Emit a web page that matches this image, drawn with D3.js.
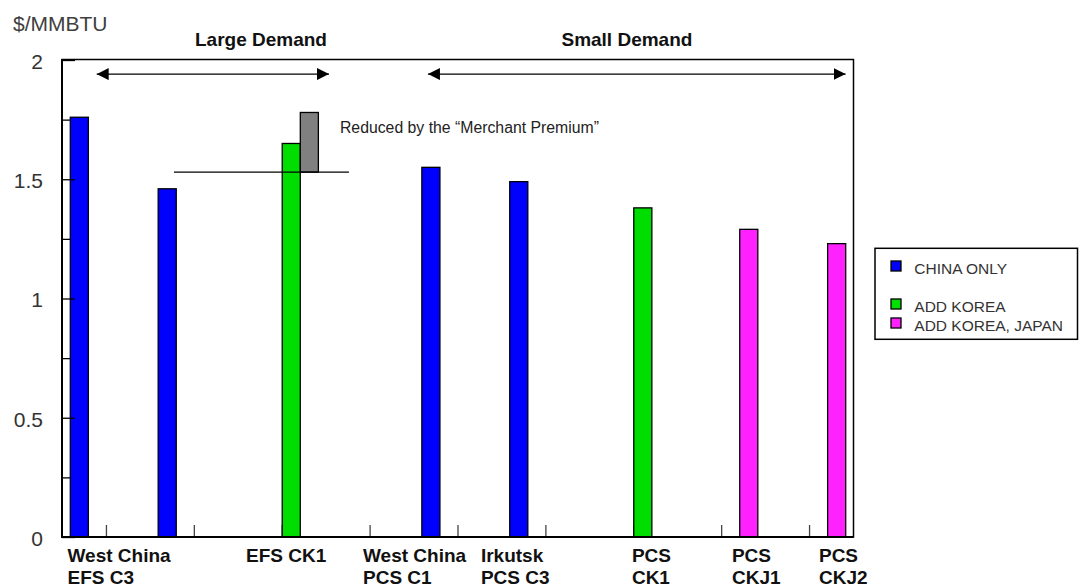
<!DOCTYPE html>
<html>
<head>
<meta charset="utf-8">
<script src="https://cdn.jsdelivr.net/npm/d3@7"></script>
<style>
  html, body { margin: 0; padding: 0; background: #fff; }
  svg { display: block; font-family: Arial, "Liberation Sans", sans-serif; }
</style>
</head>
<body>
<svg id="chart" width="1079" height="588"></svg>
<script>
// ---- data ---------------------------------------------------------------
// Nine route slots along the x axis; null means no bar in that slot.
const slotCount = 9;
const chinaOnly     = [1.76, 1.46, null, null, 1.55, 1.49, null, null, null];
const spacerSeries  = [null, null, null, null, null, null, null, null, null];
const addKorea      = [null, null, 1.65, null, null, null, 1.38, null, null];
const addKoreaJapan = [null, null, null, null, null, null, null, 1.29, 1.23];

// Merchant premium sitting on top of the EFS CK1 bar (slot 2)
const premiumSlot = 2;
const premiumLow  = 1.53;
const premiumHigh = 1.78;

const seriesNames = ["CHINA ONLY", "", "ADD KOREA", "ADD KOREA, JAPAN"];
const routeLabels = [
  ["West China", "EFS C3"],
  ["EFS CK1"],
  ["West China", "PCS C1"],
  ["Irkutsk", "PCS C3"],
  ["PCS", "CK1"],
  ["PCS", "CKJ1"],
  ["PCS", "CKJ2"]
];
const majorTicks = [0, 0.5, 1, 1.5, 2];
const minorTicks = [0.25, 0.75, 1.25, 1.75];
const unitLabel = "$/MMBTU";
const premiumNote = "Reduced by the \u201cMerchant Premium\u201d";
const demandGroups = ["Large Demand", "Small Demand"];

// ---- layout -------------------------------------------------------------
const colors = ["#0000ff", "none", "#00dd00", "#ff22ff"];
const premiumColor = "#808080";
const plot = { left: 62, right: 853.5, top: 59.5, bottom: 537 };

const svg = d3.select("#chart");

const y = d3.scaleLinear().domain([0, 2]).range([537, 60]);
const x = d3.scaleBand().domain(d3.range(slotCount)).range([62.5, 853.5]).padding(0);
const inner = d3.scaleBand().domain([0, 1, 2, 3]).range([0, x.bandwidth()])
  .paddingInner(0).paddingOuter(0.431);
// continuous position in slot units, for annotations
const pos = d3.scaleLinear().domain([0, slotCount]).range([62.5, 853.5]);

// category ticks along the bottom (drawn first, bars cover some of them)
svg.append("g")
  .attr("transform", `translate(0,${plot.bottom})`)
  .call(d3.axisBottom(x).tickSize(-12).tickFormat(""))
  .call(g => g.select(".domain").remove())
  .call(g => g.selectAll("line").attr("stroke", "#444").attr("stroke-width", 1.3));

// bars
const series = [chinaOnly, spacerSeries, addKorea, addKoreaJapan];
series.forEach((vals, si) => {
  if (colors[si] === "none") return;
  svg.append("g").selectAll("rect")
    .data(vals.map((v, i) => ({ v, i })).filter(d => d.v != null))
    .join("rect")
    .attr("x", d => x(d.i) + inner(si))
    .attr("y", d => y(d.v))
    .attr("width", inner.bandwidth())
    .attr("height", d => y(0) - y(d.v))
    .attr("fill", colors[si])
    .attr("stroke", "#000")
    .attr("stroke-width", 1.3);
});

// merchant premium block
svg.append("rect")
  .attr("x", x(premiumSlot) + inner(3))
  .attr("y", y(premiumHigh))
  .attr("width", inner.bandwidth())
  .attr("height", y(premiumLow) - y(premiumHigh))
  .attr("fill", premiumColor)
  .attr("stroke", "#000")
  .attr("stroke-width", 1.3);

// reference line at the reduced price level
svg.append("line")
  .attr("x1", pos(1.268)).attr("x2", pos(3.259))
  .attr("y1", y(premiumLow)).attr("y2", y(premiumLow))
  .attr("stroke", "#000").attr("stroke-width", 1.2);

svg.append("text")
  .attr("x", pos(3.157)).attr("y", y(1.695))
  .attr("font-size", 15.8).attr("fill", "#222")
  .text(premiumNote);

// y axis: labels + major ticks pointing inward
svg.append("g")
  .attr("transform", `translate(${plot.left},0)`)
  .call(d3.axisLeft(y).tickValues(majorTicks).tickSize(-13).tickPadding(19)
    .tickFormat(d3.format("~g")))
  .call(g => g.select(".domain").remove())
  .call(g => g.selectAll("line").attr("stroke", "#000").attr("stroke-width", 1.3))
  .call(g => g.selectAll("text").attr("font-size", 21).attr("fill", "#333")
    .attr("dy", "0.4em").attr("font-family", "Arial, 'Liberation Sans', sans-serif"));

// minor ticks
svg.append("g")
  .attr("transform", `translate(${plot.left},0)`)
  .call(d3.axisLeft(y).tickValues(minorTicks).tickSize(-8).tickFormat(""))
  .call(g => g.select(".domain").remove())
  .call(g => g.selectAll("line").attr("stroke", "#000").attr("stroke-width", 1.3));

// plot frame
svg.append("rect")
  .attr("x", plot.left).attr("y", plot.top)
  .attr("width", plot.right - plot.left).attr("height", plot.bottom - plot.top)
  .attr("fill", "none").attr("stroke", "#000").attr("stroke-width", 1.5);
svg.append("line")
  .attr("x1", plot.left).attr("x2", plot.left)
  .attr("y1", plot.top).attr("y2", plot.bottom + 1)
  .attr("stroke", "#000").attr("stroke-width", 2);
svg.append("line")
  .attr("x1", plot.left).attr("x2", plot.right)
  .attr("y1", plot.bottom).attr("y2", plot.bottom)
  .attr("stroke", "#000").attr("stroke-width", 2);

// unit label
svg.append("text")
  .attr("x", 13).attr("y", 30.7)
  .attr("font-size", 21).attr("fill", "#404040")
  .text(unitLabel);

// demand group headers and double-headed arrows
const defs = svg.append("defs");
["start", "end"].forEach(k => {
  defs.append("marker")
    .attr("id", "head-" + k)
    .attr("viewBox", "0 0 12 12")
    .attr("refX", k === "end" ? 12 : 0).attr("refY", 6)
    .attr("markerWidth", 12).attr("markerHeight", 12)
    .attr("markerUnits", "userSpaceOnUse")
    .attr("orient", "auto")
    .append("path")
    .attr("d", k === "end" ? "M0,0 L12,6 L0,12 Z" : "M12,0 L0,6 L12,12 Z")
    .attr("fill", "#000");
});

const groupSpans = [
  { from: 0.389, to: 3.032, center: 2.258 },
  { from: 4.158, to: 8.910, center: 6.422 }
];
demandGroups.forEach((name, i) => {
  const s = groupSpans[i];
  svg.append("line")
    .attr("x1", pos(s.from)).attr("x2", pos(s.to))
    .attr("y1", y(1.941)).attr("y2", y(1.941))
    .attr("stroke", "#000").attr("stroke-width", 1.3)
    .attr("marker-start", "url(#head-start)")
    .attr("marker-end", "url(#head-end)");
  svg.append("text")
    .attr("x", pos(s.center)).attr("y", 45.7)
    .attr("text-anchor", "middle")
    .attr("font-size", 19).attr("font-weight", "bold").attr("fill", "#111")
    .text(name);
});

// route labels under the axis
const labelAt = [0.057, 2.088, 3.419, 4.761, 6.479, 7.617, 8.607];
routeLabels.forEach((lines, i) => {
  const t = svg.append("text")
    .attr("x", pos(labelAt[i])).attr("y", 561.5)
    .attr("font-size", 19).attr("font-weight", "bold").attr("fill", "#111");
  lines.forEach((ln, j) => {
    t.append("tspan").attr("x", pos(labelAt[i])).attr("dy", j === 0 ? 0 : 22.5).text(ln);
  });
});

// legend
const legend = svg.append("g").attr("transform", "translate(875,248.3)");
legend.append("rect")
  .attr("width", 202.5).attr("height", 91)
  .attr("fill", "#fff").attr("stroke", "#000").attr("stroke-width", 1.5);
seriesNames.forEach((name, i) => {
  if (colors[i] === "none") return;
  const row = legend.append("g").attr("transform", `translate(16,${12.7 + i * 19})`);
  row.append("rect")
    .attr("width", 10).attr("height", 10)
    .attr("fill", colors[i]).attr("stroke", "#000").attr("stroke-width", 1.3);
  row.append("text")
    .attr("x", 23.3).attr("y", 13.3)
    .attr("font-size", 15.5).attr("fill", "#333")
    .text(name);
});
</script>
</body>
</html>
